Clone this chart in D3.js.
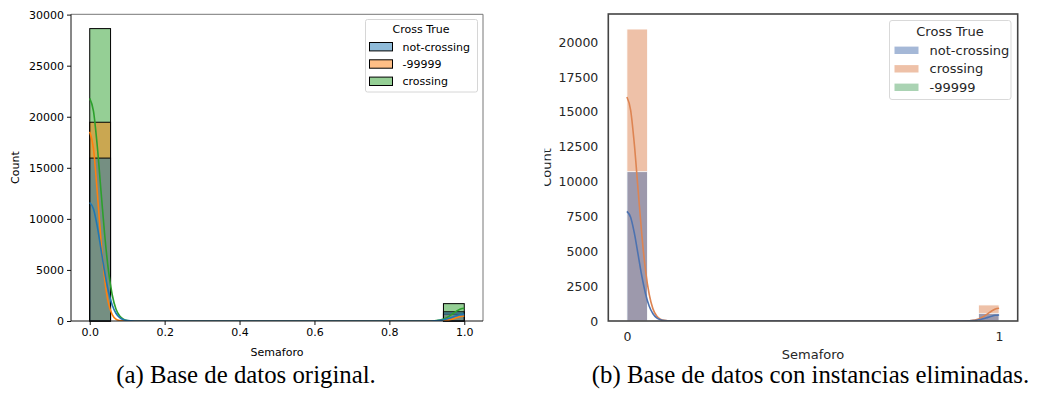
<!DOCTYPE html>
<html><head><meta charset="utf-8">
<script src="https://cdn.jsdelivr.net/npm/d3@7"></script>
<style>body{margin:0;background:#fff}svg{display:block}</style>
</head><body><svg id="c" width="1046" height="405"></svg>
<script>
// ---- data ----
const binLo = [0, 0.9444];
const binHi = [0.0556, 1.0];
// panel (a)
const seriesA = ["not-crossing", "-99999", "crossing"];
const countsA_notCrossing = [15950, 900];
const countsA_m99999 = [19460, 680];
const countsA_crossing = [28630, 1700];
// panel (b)
const seriesB = ["not-crossing", "crossing", "-99999"];
const countsB_notCrossing = [10715, 550];
const countsB_crossing = [20950, 1150];
const countsB_m99999 = [0, 0];
// KDE curves
const kdeX = [0,0.01,0.02,0.03,0.04,0.05,0.06,0.07,0.08,0.09,0.10,0.12,0.15,0.85,0.88,0.90,0.91,0.92,0.93,0.94,0.95,0.96,0.97,0.98,0.99,1.0];
const kdeA_notCrossing = [11600,10970,9290,7040,4770,2890,1570,760,330,130,45,3,0, 0,0,3,7,18,43,88,162,267,395,520,615,650];
const kdeA_m99999 = [18540,16870,12700,7920,4080,1745,620,180,44,8,1,0,0, 0,0,0,0,1,5,16,46,108,209,336,446,490];
const kdeA_crossing = [21800,20540,17180,12770,8420,4930,2570,1180,490,176,57,4,0, 0,0,3,10,28,68,148,283,483,733,985,1178,1250];
const kdeB_notCrossing = [7870,7445,6300,4780,3235,1960,1060,520,225,87,31,2,0, 0,0,2,5,12,28,58,107,177,261,344,407,430];
const kdeB_crossing = [16075,15140,12670,9420,6200,3630,1900,870,355,130,42,3,0, 0,0,2,7,20,49,107,206,351,533,717,857,910];
// ticks
const xTicksA = [0, 0.2, 0.4, 0.6, 0.8, 1.0];
const yTicksA = [0, 5000, 10000, 15000, 20000, 25000, 30000];
const xTicksB = [0, 1];
const yTicksB = [0, 2500, 5000, 7500, 10000, 12500, 15000, 17500, 20000];
const captionA = "(a) Base de datos original.";
const captionB = "(b) Base de datos con instancias eliminadas.";

const svg = d3.select("#c");
const FONT = "DejaVu Sans, sans-serif";

// ================= Panel A =================
(function(){
  const L=71, R=483, T=14.3, B=321;
  const x = d3.scaleLinear().domain([-0.05,1.05]).range([L,R]);
  const y = d3.scaleLinear().domain([0,30030]).range([B,T]);
  const g = svg.append("g");
  const cols = {"not-crossing":"#1f77b4","-99999":"#ff7f0e","crossing":"#2ca02c"};
  const counts = {"not-crossing":countsA_notCrossing,"-99999":countsA_m99999,"crossing":countsA_crossing};
  const kdes = {"not-crossing":kdeA_notCrossing,"-99999":kdeA_m99999,"crossing":kdeA_crossing};
  g.append("clipPath").attr("id","clipA").append("rect").attr("x",L).attr("y",T).attr("width",R-L).attr("height",B-T);
  const order = seriesA.slice().reverse();
  order.forEach(s=>{
    g.append("g").selectAll("rect").data(counts[s].map((c,i)=>({c,i}))).join("rect")
      .attr("x",d=>x(binLo[d.i])).attr("width",d=>x(binHi[d.i])-x(binLo[d.i]))
      .attr("y",d=>y(d.c)).attr("height",d=>y(0)-y(d.c))
      .attr("fill",cols[s]).attr("fill-opacity",0.5)
      .attr("stroke","#000").attr("stroke-width",1);
  });
  const line = d3.line().x((d,i)=>x(kdeX[i])).y(d=>y(d)).curve(d3.curveMonotoneX);
  order.forEach(s=>{
    g.append("path").attr("d",line(kdes[s])).attr("fill","none").attr("stroke",cols[s])
      .attr("stroke-width",1.6).attr("clip-path","url(#clipA)");
  });
  g.append("line").attr("x1",L).attr("x2",R).attr("y1",T).attr("y2",T).attr("stroke","#777").attr("stroke-width",1);
  g.append("line").attr("x1",R).attr("x2",R).attr("y1",T).attr("y2",B).attr("stroke","#777").attr("stroke-width",1);
  const xa = g.append("g").attr("transform",`translate(0,${B})`)
    .call(d3.axisBottom(x).tickValues(xTicksA).tickFormat(d3.format(".1f")).tickSizeOuter(0).tickSize(4).tickPadding(3));
  const ya = g.append("g").attr("transform",`translate(${L},0)`)
    .call(d3.axisLeft(y).tickValues(yTicksA).tickFormat(d=>d).tickSizeOuter(0).tickSize(4).tickPadding(3));
  [xa,ya].forEach(a=>{a.select(".domain").remove();
    a.selectAll("text").attr("font-family",FONT).attr("font-size",11).attr("fill","#000");
    a.selectAll("line").attr("stroke","#111");});
  g.append("line").attr("x1",L).attr("x2",R).attr("y1",B).attr("y2",B).attr("stroke","#111");
  g.append("line").attr("x1",L).attr("x2",L).attr("y1",T).attr("y2",B).attr("stroke","#111");
  g.append("text").attr("x",(L+R)/2).attr("y",356).attr("text-anchor","middle")
    .attr("font-family",FONT).attr("font-size",11).text("Semaforo");
  g.append("text").attr("transform",`translate(19,${(T+B)/2}) rotate(-90)`).attr("text-anchor","middle")
    .attr("font-family",FONT).attr("font-size",11).text("Count");
  const lg = g.append("g");
  lg.append("rect").attr("x",365.5).attr("y",19.5).attr("width",112).attr("height",72.5).attr("rx",2)
    .attr("fill","#fff").attr("fill-opacity",0.8).attr("stroke","#d6d6d6");
  lg.append("text").attr("x",421).attr("y",33.3).attr("text-anchor","middle").attr("font-family",FONT).attr("font-size",11).text("Cross True");
  seriesA.forEach((s,i)=>{
    const yy = 46.7 + i*17.3;
    lg.append("rect").attr("x",369.5).attr("y",yy-4.2).attr("width",23).attr("height",8.4)
      .attr("fill",cols[s]).attr("fill-opacity",0.5).attr("stroke","#000").attr("stroke-width",1);
    lg.append("text").attr("x",402.5).attr("y",yy+4).attr("font-family",FONT).attr("font-size",11).text(s);
  });
})();

// ================= Panel B =================
(function(){
  const L=608.3, R=1017.7, T=14, B=321;
  const x = d3.scaleLinear().domain([-0.05,1.05]).range([L,R]);
  const y = d3.scaleLinear().domain([0,22030]).range([B,T]);
  const g = svg.append("g");
  g.append("clipPath").attr("id","clipPanelB").append("rect").attr("x",544.5).attr("y",0).attr("width",502).attr("height",365);
  g.attr("clip-path","url(#clipPanelB)");
  const TXT = "#262626";
  const cols = {"not-crossing":"#4c72b0","crossing":"#dd8452","-99999":"#55a868"};
  const counts = {"not-crossing":countsB_notCrossing,"crossing":countsB_crossing,"-99999":countsB_m99999};
  const kdes = {"not-crossing":kdeB_notCrossing,"crossing":kdeB_crossing};
  g.append("clipPath").attr("id","clipB").append("rect").attr("x",L).attr("y",T).attr("width",R-L).attr("height",B-T);
  const order = seriesB.slice().reverse();
  order.forEach(s=>{
    g.append("g").selectAll("rect").data(counts[s].map((c,i)=>({c,i})).filter(d=>d.c>0)).join("rect")
      .attr("x",d=>x(binLo[d.i])).attr("width",d=>x(binHi[d.i])-x(binLo[d.i]))
      .attr("y",d=>y(d.c)).attr("height",d=>y(0)-y(d.c))
      .attr("fill",cols[s]).attr("fill-opacity",0.5)
      .attr("stroke","#fff").attr("stroke-width",0.8);
  });
  const line = d3.line().x((d,i)=>x(kdeX[i])).y(d=>y(d)).curve(d3.curveMonotoneX);
  order.filter(s=>kdes[s]).forEach(s=>{
    g.append("path").attr("d",line(kdes[s])).attr("fill","none").attr("stroke",cols[s])
      .attr("stroke-width",1.6).attr("clip-path","url(#clipB)");
  });
  g.append("rect").attr("x",L).attr("y",T).attr("width",R-L).attr("height",B-T)
    .attr("fill","none").attr("stroke","#444").attr("stroke-width",1.6);
  const xa = g.append("g").attr("transform",`translate(0,${B})`)
    .call(d3.axisBottom(x).tickValues(xTicksB).tickFormat(d=>d).tickSize(0).tickPadding(11));
  const ya = g.append("g").attr("transform",`translate(${L},0)`)
    .call(d3.axisLeft(y).tickValues(yTicksB).tickFormat(d=>d).tickSize(0).tickPadding(10));
  [xa,ya].forEach(a=>{a.select(".domain").remove();
    a.selectAll("text").attr("font-family",FONT).attr("font-size",12.5).attr("fill",TXT);});
  g.append("text").attr("x",(L+R)/2).attr("y",359).attr("text-anchor","middle")
    .attr("font-family",FONT).attr("font-size",13).attr("fill",TXT).text("Semaforo");
  g.append("text").attr("transform",`translate(551,${(T+B)/2}) rotate(-90)`).attr("text-anchor","middle")
    .attr("font-family",FONT).attr("font-size",13).attr("fill",TXT).text("Count");
  const lg = g.append("g");
  lg.append("rect").attr("x",889.5).attr("y",20.5).attr("width",121.5).attr("height",79).attr("rx",2.5)
    .attr("fill","#fff").attr("fill-opacity",0.8).attr("stroke","#d9d9d9");
  lg.append("text").attr("x",950).attr("y",35.5).attr("text-anchor","middle").attr("font-family",FONT).attr("font-size",13).attr("fill",TXT).text("Cross True");
  seriesB.forEach((s,i)=>{
    const yy = 50.3 + i*18.5;
    lg.append("rect").attr("x",894.5).attr("y",yy-3.7).attr("width",24).attr("height",7.4)
      .attr("fill",cols[s]).attr("fill-opacity",0.5);
    lg.append("text").attr("x",929.5).attr("y",yy+4.6).attr("font-family",FONT).attr("font-size",13).attr("fill",TXT).text(s);
  });
})();

// captions
svg.append("text").attr("x",246).attr("y",383).attr("text-anchor","middle")
  .attr("font-family","Liberation Serif, Times New Roman, serif").attr("font-size",24.8).attr("fill","#000").text(captionA);
svg.append("text").attr("x",810.5).attr("y",383).attr("text-anchor","middle")
  .attr("font-family","Liberation Serif, Times New Roman, serif").attr("font-size",24.8).attr("fill","#000").text(captionB);
</script></body></html>
